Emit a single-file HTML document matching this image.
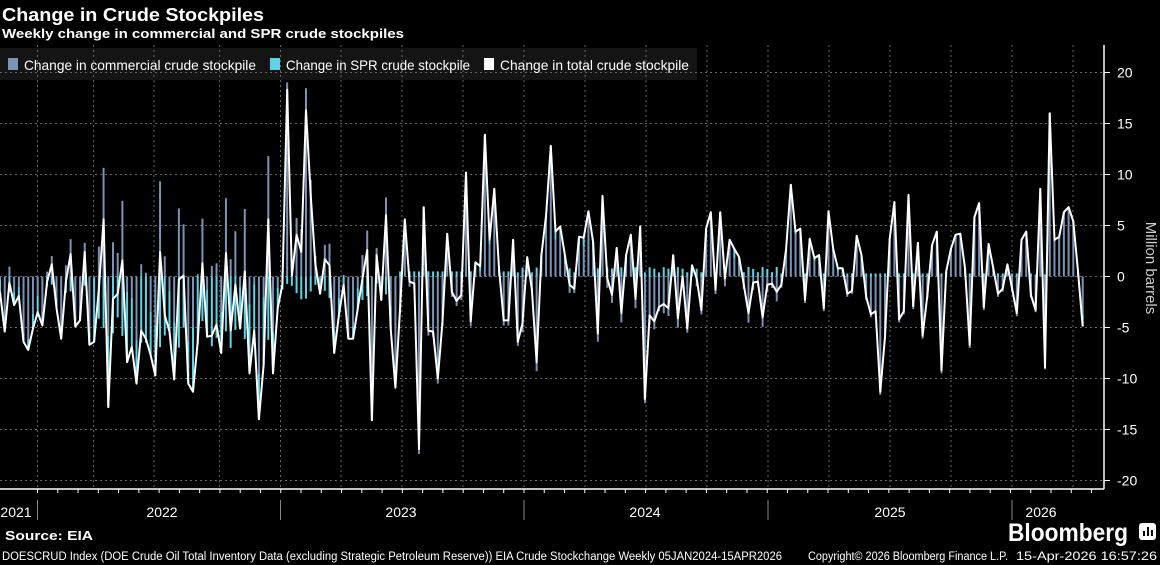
<!DOCTYPE html>
<html><head><meta charset="utf-8">
<style>
html,body{margin:0;padding:0;background:#000;width:1160px;height:565px;overflow:hidden;font-family:"Liberation Sans",sans-serif;color:#fff}
svg{position:absolute;left:0;top:0}
</style></head>
<body>
<svg id="c" width="1160" height="565" xmlns="http://www.w3.org/2000/svg">
<text x="2" y="21" fill="#fff" font-size="18" font-weight="bold" textLength="262" lengthAdjust="spacingAndGlyphs">Change in Crude Stockpiles</text>
<text x="2" y="38" fill="#fff" font-size="13" font-weight="bold" textLength="402" lengthAdjust="spacingAndGlyphs">Weekly change in commercial and SPR crude stockpiles</text>
<rect x="0" y="48" width="697" height="32" fill="#141414"/>
<g id="grid"></g>
<g id="bars"></g>
<polyline id="line" fill="none" stroke="#fff" stroke-width="2" stroke-linejoin="round"/>
<rect x="8" y="58" width="10" height="12" fill="#7b93b5"/>
<text x="24" y="70" fill="#fff" font-size="14" textLength="232" lengthAdjust="spacingAndGlyphs">Change in commercial crude stockpile</text>
<rect x="270" y="58" width="10" height="12" fill="#5fd3e6"/>
<text x="286" y="70" fill="#fff" font-size="14" textLength="184" lengthAdjust="spacingAndGlyphs">Change in SPR crude stockpile</text>
<rect x="484" y="58" width="10" height="12" fill="#fff"/>
<text x="500" y="70" fill="#fff" font-size="14" textLength="189" lengthAdjust="spacingAndGlyphs">Change in total crude stockpile</text>
<line x1="1104" y1="45" x2="1104" y2="489" stroke="#fff" stroke-width="1.5"/>
<line x1="0" y1="489" x2="1104" y2="489" stroke="#fff" stroke-width="1.5"/>
<g id="axis" fill="#fff" font-size="14"></g>
<text transform="translate(1146,268) rotate(90)" text-anchor="middle" fill="#ccc" font-size="15">Million barrels</text>
<g fill="#fff" font-size="14" text-anchor="middle">
<text x="16" y="517">2021</text><text x="162" y="517">2022</text><text x="401" y="517">2023</text>
<text x="645" y="517">2024</text><text x="890" y="517">2025</text><text x="1041" y="517">2026</text>
</g>
<g stroke="#888" stroke-width="1">
<line x1="37.5" y1="500" x2="37.5" y2="520"/><line x1="280.5" y1="500" x2="280.5" y2="520"/>
<line x1="524" y1="500" x2="524" y2="520"/><line x1="768" y1="500" x2="768" y2="520"/>
<line x1="1012" y1="500" x2="1012" y2="520"/>
</g>
<text x="5" y="540" fill="#fff" font-size="13" font-weight="bold" textLength="88" lengthAdjust="spacingAndGlyphs">Source: EIA</text>
<text x="1008" y="541" fill="#fff" font-size="25" font-weight="bold" textLength="120" lengthAdjust="spacingAndGlyphs">Bloomberg</text>
<rect x="1139" y="523" width="17" height="17" rx="3" fill="#fff"/>
<g stroke="#000" stroke-width="2"><line x1="1144" y1="536" x2="1144" y2="531"/><line x1="1148" y1="536" x2="1148" y2="527"/><line x1="1152" y1="536" x2="1152" y2="530"/></g>
<text x="2" y="560" fill="#fff" font-size="11.5" textLength="780" lengthAdjust="spacingAndGlyphs">DOESCRUD Index (DOE Crude Oil Total Inventory Data (excluding Strategic Petroleum Reserve)) EIA Crude Stockchange Weekly 05JAN2024-15APR2026</text>
<text x="808" y="560" fill="#fff" font-size="11.5" textLength="200" lengthAdjust="spacingAndGlyphs">Copyright© 2026 Bloomberg Finance L.P.</text>
<text x="1016" y="560" fill="#fff" font-size="11.5" textLength="141" lengthAdjust="spacingAndGlyphs">15-Apr-2026 16:57:26</text>
</svg>
<script>
var T=[-1.5,-5.4,-0.6,-2.8,-1.9,-6.4,-7.2,-5.1,-3.5,-4.8,-0.5,1.2,-3.1,-6.1,-0.5,2.2,-4.9,-4.3,2.4,-6.7,-6.4,-1.2,5.6,-12.8,-2.2,-1.7,1.6,-8.4,-6.9,-10.5,-5.3,-6.1,-7.7,-9.7,2.4,-3.8,-5.4,-10.1,-0.3,0.1,-10.5,-11.3,-6.4,1.3,-5.9,-5.8,-4.7,-7.5,2.3,-5.3,-0.8,-5.1,0.5,-9.5,-5.3,-14.0,-8.7,5.6,-9.5,-3.1,-0.8,
18.3,0.1,4.1,2.4,16.3,8.0,1.2,-1.7,1.7,1.1,-7.5,-3.8,-0.8,-6.1,-6.1,-3.1,-0.2,2.6,-14.1,2.1,-2.3,6.0,-5.1,-10.9,-3.1,5.6,-0.5,-0.7,-16.9,6.8,-5.3,-5.4,-10.0,-4.4,4.2,-1.5,-2.4,-1.8,10.2,-4.4,1.4,1.0,13.9,3.6,8.6,0.8,-4.3,-4.3,3.6,-6.4,-4.6,1.9,-1.3,-8.4,2.1,
6.0,12.8,4.4,4.9,2.1,-0.8,-1.2,3.9,3.8,6.4,3.4,-5.6,7.9,-0.2,-1.8,2.8,-3.6,2.1,4.1,-2.2,4.9,-12.0,-3.8,-4.4,-3.0,-2.7,-3.1,2.1,-4.1,0,-5.1,1.1,-0.2,-3.3,4.7,6.3,-1.3,6.3,-0.2,3.6,2.7,1.9,-0.8,-3.6,-0.6,-0.5,-4.0,-0.8,-0.7,-1.5,-0.8,2.7,9.0,4.4,4.7,-2.3,3.7,1.8,2.1,
-3.1,6.4,2.7,0.8,0.8,-1.7,-1.4,4.0,2.1,-2.0,-3.7,-3.4,-11.3,-5.9,3.7,7.3,-4.2,-3.4,8.0,-2.9,3.3,-5.8,-1.8,3.1,4.4,-9.2,0.5,2.7,4.1,4.2,0.8,-6.7,5.8,7.2,-3.0,3.2,0.8,-1.7,-1.2,1.2,-1.2,-3.6,3.6,4.4,-1.8,-3.3,8.6,-8.9,16.0,3.6,3.9,6.3,6.8,5.4,0.5,-4.9];
var NS="http://www.w3.org/2000/svg";
function el(t,a,p){var e=document.createElementNS(NS,t);for(var k in a)e.setAttribute(k,a[k]);p.appendChild(e);return e;}
var Y0=276.5,K=10.2;function yv(v){return Y0-v*K;}
var g=document.getElementById('grid');
for(var v=-20;v<=20;v+=5){el('line',{x1:0,x2:1104,y1:yv(v),y2:yv(v),stroke:'#666','stroke-dasharray':'2,3','stroke-width':1},g);}
var qx=[37.5,93.6,154,219.6,280.5,341,402,463,524,585,646,707,768,829,890,951,1012,1073];
qx.forEach(function(x){el('line',{x1:x,x2:x,y1:45,y2:489,stroke:'#666','stroke-dasharray':'2,3','stroke-width':1},g);});
var ax=document.getElementById('axis');
for(var v=-20;v<=20;v+=5){var y=yv(v);el('line',{x1:1104,x2:1110,y1:y,y2:y,stroke:'#fff'},ax);
 var t=el('text',{x:1117,y:y+5},ax);t.textContent=String(v);}
for(var m=0;m<54;m++){var x=37.5+m*20.27;if(x>1104)break;el('line',{x1:x,x2:x,y1:489,y2:493,stroke:'#fff'},ax);}
var n=T.length,dx=1082.7/(n-1),b=document.getElementById('bars'),pts=[];
for(var i=0;i<n;i++){
 var s;
 if(i<20)s=-1.2-0.4*Math.sin(i);
 else if(i<59)s=-5.5-1.5*Math.sin(i*1.7);
 else if(i<85)s=-1.5-0.8*Math.sin(i);
 else if(i<110)s=0.5;
 else if(i<166)s=0.7+0.3*Math.sin(i*2.1);
 else if(i<220)s=0.3;
 else s=0.2;
 if(i==n-1)s=-1.2;
 var c=T[i]-s,x=i*dx;
 var cy1=yv(0),cy2=yv(c);
 el('rect',{x:x-1,y:Math.min(cy1,cy2),width:2,height:Math.abs(cy1-cy2),fill:'#7b93b5'},b);
 var base=(c*s>0)?c:0;var sy1=yv(base),sy2=yv(base+s);
 el('rect',{x:x-1,y:Math.min(sy1,sy2),width:2,height:Math.abs(sy1-sy2),fill:'#5fd3e6'},b);
 pts.push(x.toFixed(1)+','+yv(T[i]).toFixed(1));
}
document.getElementById('line').setAttribute('points',pts.join(' '));
</script>
</body></html>
